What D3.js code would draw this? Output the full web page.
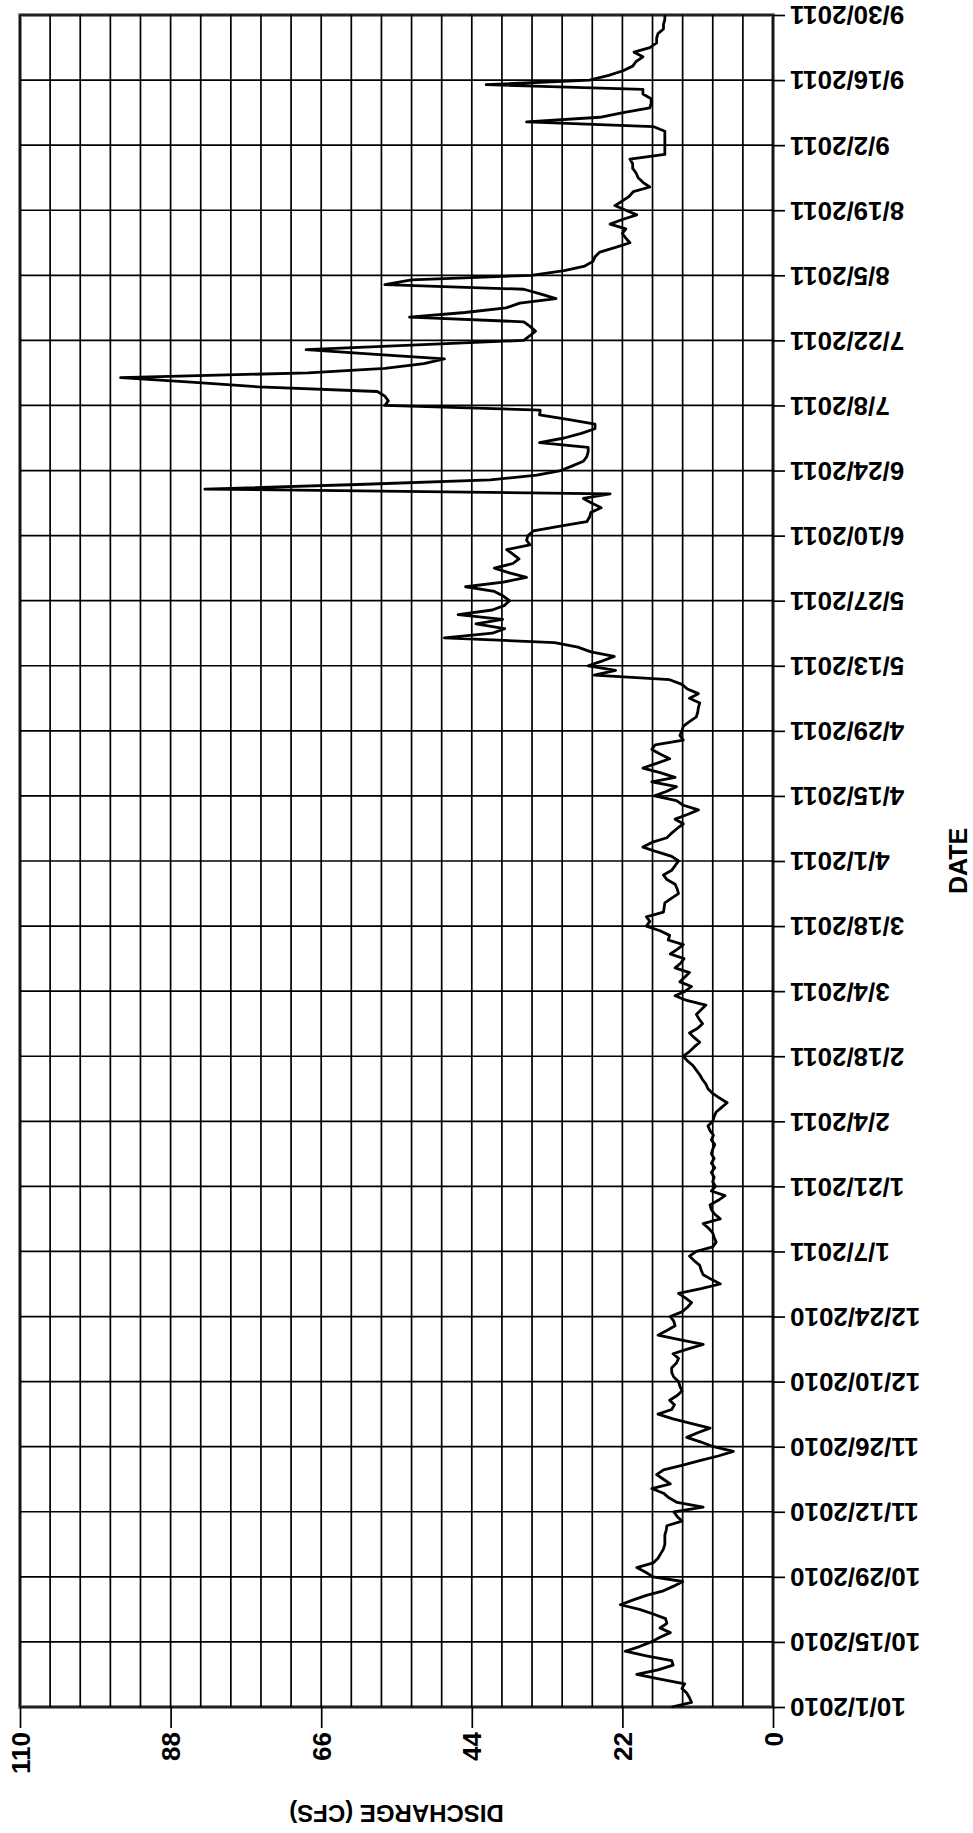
<!DOCTYPE html>
<html>
<head>
<meta charset="utf-8">
<script src="https://cdn.jsdelivr.net/npm/d3@7"></script>
<style>
  body { margin: 0; background: #fff; }
  text { font-family: "Liberation Sans", Arial, sans-serif; }
</style>
</head>
<body>
<div id="hydrograph"></div>
<script>
// daily discharge (cfs), water year 10/1/2010 - 9/30/2011
const oct2010 = [14.8, 11.9, 12.2, 12.6, 13.3, 12.9, 16.5, 19.9, 16.8, 14.6, 14.8, 18.5, 21.6, 19.5, 17.8, 16.5, 15.0, 16.5, 15.5, 15.7, 17.5, 19.5, 22.3, 20.5, 18.5, 16.0, 14.5, 13.2, 17.5, 18.6, 19.9];
const nov2010 = [17.5, 16.8, 16.4, 16.0, 15.8, 15.8, 15.8, 15.6, 15.5, 13.3, 14.0, 14.5, 10.2, 14.0, 15.2, 16.0, 17.7, 15.0, 16.0, 17.0, 16.0, 13.3, 10.7, 8.0, 5.8, 8.7, 10.5, 12.6, 11.0, 9.2];
const dec2010 = [12.0, 14.6, 16.8, 14.8, 14.4, 15.1, 14.0, 13.3, 13.6, 13.8, 14.5, 14.8, 14.8, 14.1, 13.8, 14.6, 12.5, 10.2, 13.5, 16.8, 15.5, 14.3, 14.5, 15.0, 13.3, 12.5, 11.9, 12.8, 13.8, 10.5, 7.7];
const jan2011 = [9.0, 10.2, 10.5, 10.7, 11.5, 12.2, 11.2, 8.8, 8.3, 8.6, 8.8, 9.4, 10.2, 7.7, 8.5, 9.0, 9.2, 8.0, 7.0, 9.0, 8.4, 8.8, 8.6, 9.0, 8.5, 9.0, 8.6, 9.0, 8.8, 8.5, 9.0];
const feb2011 = [8.7, 9.2, 9.5, 8.8, 8.6, 8.3, 7.5, 6.7, 7.8, 8.8, 9.5, 9.8, 10.3, 10.7, 11.2, 11.7, 12.5, 13.1, 12.2, 11.5, 10.7, 11.5, 12.2, 11.0, 10.3, 10.8, 11.2, 10.5];
const mar2011 = [9.8, 12.6, 14.3, 12.8, 11.9, 13.6, 12.9, 12.2, 14.3, 13.5, 13.0, 15.0, 14.0, 13.1, 15.3, 15.1, 16.5, 18.5, 18.0, 18.5, 16.0, 15.9, 15.8, 14.8, 13.8, 14.0, 14.3, 15.5, 16.0, 14.8, 14.3];
const apr2011 = [13.8, 14.8, 17.0, 19.0, 17.7, 15.5, 14.8, 14.0, 13.1, 14.3, 12.5, 10.9, 13.1, 14.1, 17.3, 15.5, 14.1, 17.7, 14.3, 16.5, 19.0, 17.0, 15.1, 16.5, 17.7, 17.2, 13.1, 13.6, 13.3, 13.1];
const may2011 = [12.2, 11.2, 11.0, 10.9, 10.7, 12.2, 10.9, 12.5, 13.3, 15.1, 26.1, 23.0, 27.0, 25.0, 23.2, 26.6, 28.5, 31.9, 48.0, 41.0, 39.2, 43.4, 39.5, 46.0, 41.0, 39.2, 38.5, 39.4, 40.7, 44.9, 39.4];
const jun2011 = [36.0, 38.5, 40.7, 38.0, 37.1, 38.0, 38.9, 35.5, 36.0, 35.8, 35.0, 31.3, 27.2, 26.8, 26.6, 25.1, 26.5, 27.7, 23.8, 83.0, 60.6, 41.3, 34.5, 31.0, 29.3, 27.7, 27.2, 27.0, 27.0, 34.1];
const jul2011 = [30.5, 28.0, 26.0, 26.0, 30.0, 34.1, 34.0, 56.7, 56.2, 56.7, 57.8, 75.1, 85.0, 95.3, 67.9, 56.7, 51.0, 48.0, 58.0, 68.2, 52.8, 36.4, 35.5, 34.7, 35.5, 36.4, 53.1, 45.0, 39.0, 37.0, 31.7];
const aug2011 = [34.0, 36.4, 56.7, 52.8, 35.3, 30.5, 27.5, 26.3, 26.0, 25.3, 23.0, 20.9, 21.5, 22.0, 21.5, 23.8, 22.0, 19.9, 21.5, 23.1, 22.0, 21.0, 20.4, 18.0, 19.0, 19.7, 20.0, 20.5, 20.5, 20.9, 15.8];
const sep2011 = [15.8, 15.8, 15.8, 15.8, 15.8, 17.5, 36.0, 25.3, 21.9, 18.0, 17.8, 17.8, 19.0, 19.0, 41.9, 26.8, 24.0, 21.9, 20.5, 20.0, 19.0, 20.3, 18.0, 17.0, 17.0, 16.8, 16.0, 16.0, 15.8, 15.8];

const dateLabels = ["10/1/2010", "10/15/2010", "10/29/2010", "11/12/2010", "11/26/2010", "12/10/2010",
    "12/24/2010", "1/7/2011", "1/21/2011", "2/4/2011", "2/18/2011", "3/4/2011", "3/18/2011", "4/1/2011",
    "4/15/2011", "4/29/2011", "5/13/2011", "5/27/2011", "6/10/2011", "6/24/2011", "7/8/2011", "7/22/2011",
    "8/5/2011", "8/19/2011", "9/2/2011", "9/16/2011", "9/30/2011"];
const valueTicks = [0, 22, 44, 66, 88, 110];
const gridStep = 4.4;

const margin = {top: 15, right: 200, bottom: 126, left: 20},
    width = 973 - margin.left - margin.right,
    height = 1833 - margin.top - margin.bottom;

const svg = d3.select("#hydrograph").append("svg")
    .attr("width", width + margin.left + margin.right)
    .attr("height", height + margin.top + margin.bottom)
    .append("g")
    .attr("transform", `translate(${margin.left}, ${margin.top})`);

const parseDate = d3.utcParse("%m/%d/%Y");
const start = parseDate(dateLabels[0]);
const dataset = [oct2010, nov2010, dec2010, jan2011, feb2011, mar2011,
    apr2011, may2011, jun2011, jul2011, aug2011, sep2011]
    .flat()
    .map((v, i) => ({date: d3.utcDay.offset(start, i), value: v}));

// chart is turned on its side: discharge runs right-to-left, dates bottom-to-top
const xScale = d3.scaleLinear()
    .domain([0, 110])
    .range([width, 0]);

const yScale = d3.scaleUtc()
    .domain([start, parseDate(dateLabels[dateLabels.length - 1])])
    .range([height, 0]);

// frame
svg.append("rect")
    .attr("width", width)
    .attr("height", height)
    .attr("fill", "#fff")
    .attr("stroke", "#8a8a8a")
    .attr("stroke-width", 4);

// grid
svg.append("g")
    .selectAll("line")
    .data(d3.range(26).map(i => i * gridStep))
    .join("line")
    .attr("x1", d => xScale(d))
    .attr("x2", d => xScale(d))
    .attr("y1", 0)
    .attr("y2", height)
    .attr("stroke", "#000")
    .attr("stroke-width", 1.7);

svg.append("g")
    .selectAll("line")
    .data(dateLabels.map(parseDate))
    .join("line")
    .attr("x1", 0)
    .attr("x2", width)
    .attr("y1", d => yScale(d))
    .attr("y2", d => yScale(d))
    .attr("stroke", "#000")
    .attr("stroke-width", 1.7);

// date axis on the right, labels upside down
svg.append("g")
    .attr("transform", `translate(${width}, 0)`)
    .call(d3.axisRight(yScale)
        .tickValues(dateLabels.map(parseDate))
        .tickFormat(d3.utcFormat("%-m/%-d/%Y"))
        .tickSize(12))
    .call(g => g.select(".domain").remove())
    .call(g => g.selectAll(".tick line").attr("stroke-width", 1.7))
    .call(g => g.selectAll(".tick text")
        .attr("x", 0)
        .attr("dy", "0.35em")
        .attr("text-anchor", "end")
        .attr("transform", "translate(17, 0) rotate(180)")
        .attr("font-size", 26)
        .attr("font-weight", "bold")
        .attr("font-family", "Liberation Sans, Arial, sans-serif")
        .attr("fill", "#000"));

// discharge axis at the bottom, labels turned
svg.append("g")
    .attr("transform", `translate(0, ${height})`)
    .call(d3.axisBottom(xScale)
        .tickValues(valueTicks)
        .tickSize(21))
    .call(g => g.select(".domain").remove())
    .call(g => g.selectAll(".tick line").attr("stroke-width", 1.7))
    .call(g => g.selectAll(".tick text")
        .attr("x", 0)
        .attr("y", 0)
        .attr("dy", "0.35em")
        .attr("text-anchor", "end")
        .attr("transform", "translate(0, 25) rotate(-90)")
        .attr("font-size", 26)
        .attr("font-weight", "bold")
        .attr("font-family", "Liberation Sans, Arial, sans-serif")
        .attr("fill", "#000"));

svg.append("text")
    .attr("transform", `translate(${width / 2}, ${height + 106}) rotate(180)`)
    .attr("text-anchor", "middle")
    .attr("dy", "0.35em")
    .attr("font-size", 24)
    .attr("font-weight", "bold")
    .text("DISCHARGE (CFS)");

svg.append("text")
    .attr("transform", `translate(${width + 185}, ${height / 2}) rotate(-90)`)
    .attr("text-anchor", "middle")
    .attr("dy", "0.35em")
    .attr("font-size", 25)
    .attr("font-weight", "bold")
    .text("DATE");

svg.append("path")
    .datum(dataset)
    .attr("fill", "none")
    .attr("stroke", "#000")
    .attr("stroke-width", 2.8)
    .attr("stroke-linejoin", "round")
    .attr("d", d3.line()
        .x(d => xScale(d.value))
        .y(d => yScale(d.date)));
</script>
</body>
</html>
